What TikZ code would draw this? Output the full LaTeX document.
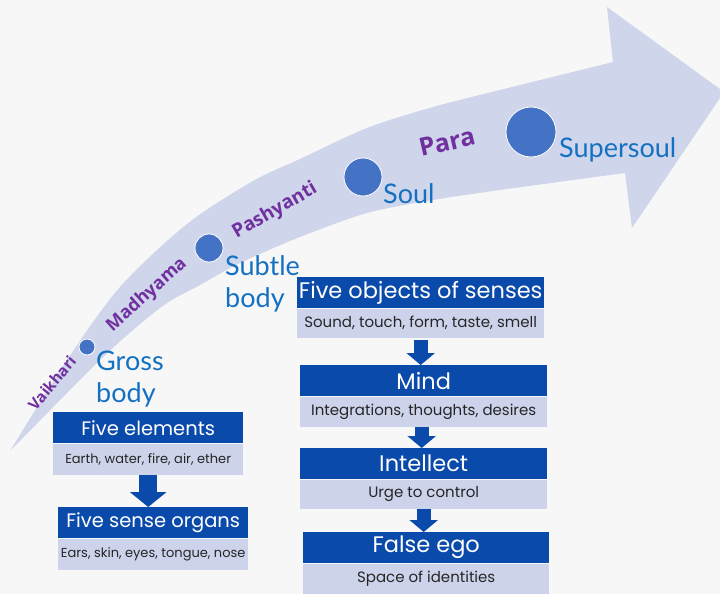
\documentclass[tikz,border=0pt]{standalone}
\usepackage{fontspec}
\setmainfont{Lato}
\newfontfamily\boxfont{Poppins}
\newfontfamily\plfont{Open Sans}
\usetikzlibrary{arrows.meta}
\definecolor{bgc}{HTML}{F7F7F7}
\definecolor{bandc}{HTML}{CFD5EA}
\definecolor{dotc}{HTML}{4472C4}
\definecolor{lblc}{HTML}{1471C2}
\definecolor{purpc}{HTML}{7030A0}
\definecolor{hdrc}{HTML}{0A4AAA}
\definecolor{bdyc}{HTML}{CDD3EA}
\definecolor{txtc}{HTML}{262626}
\tikzset{
  hdrbox/.style={fill=hdrc, text=white, minimum width=#1, minimum height=31pt, inner sep=0pt, anchor=north west, font=\boxfont\fontsize{22.5}{22.5}\selectfont},
  bdybox/.style={fill=bdyc, text=txtc, minimum width=#1, minimum height=30pt, inner sep=0pt, anchor=north west, font=\boxfont\fontsize{15}{15}\selectfont},
  lhdr/.style={font=\boxfont\fontsize{19.5}{19.5}\selectfont},
  lbdy/.style={font=\boxfont\fontsize{13}{13}\selectfont},
  bigarrow/.style={draw=hdrc, line width=18pt, -{Triangle[width=36pt,length=15pt]}},
  smallarrow/.style={draw=hdrc, line width=14pt, -{Triangle[width=28pt,length=12pt]}},
  dotnode/.style={circle, fill=dotc, draw=white, line width=0.8pt, inner sep=0pt, minimum size=#1},
  lab/.style={text=lblc, inner sep=0pt, anchor=north west, align=left, font=\fontsize{27}{32}\selectfont},
  plab/.style={text=purpc, inner sep=0pt, font=\plfont\bfseries\fontsize{#1}{#1}\selectfont},
}
\begin{document}
\begin{tikzpicture}[x=1pt,y=-1pt]
\fill[bgc] (0,0) rectangle (720,594);
\useasboundingbox (0,0) rectangle (720,594);
% band arrow
\fill[bandc] plot[smooth] coordinates {(10,451) (67,360) (120,287) (187,224) (253,181) (300,159) (367,128) (433,107) (500,90) (613,62)}
  -- (607,7) -- (724,92) -- (632,228) --
  plot[smooth] coordinates {(625,173) (500,190) (433,200) (367,213) (300,237) (240,263) (200,285) (167,303) (133,330) (100,360) (67,393) (10,451)} -- cycle;
% dots
\node[dotnode=16pt] (d1) at (87,347) {};
\node[dotnode=28pt] (d2) at (209,248) {};
\node[dotnode=38pt] (d3) at (363,177) {};
\node[dotnode=50pt] (d4) at (531,132) {};
% blue labels
\node[lab] (l1) at (96,351) {Gross\\body};
\node[lab] (l2) at (225,255) {Subtle\\body};
\node[lab] (l3) at (383,183) {Soul};
\node[lab] (l4) at (559,137) {Supersoul};
% purple labels
\node[plab=15.5, rotate=50] (p1) at (52,383) {Vaikhari};
\node[plab=18, rotate=42] (p2) at (147,295) {Madhyama};
\node[plab=19, rotate=30] (p3) at (275,211) {Pashyanti};
\node[plab=25, rotate=13] (p4) at (447,142) {Para};
% left column
\node[hdrbox=190pt, lhdr] (fe) at (53,412) {Five elements};
\node[bdybox=190pt, lbdy, minimum height=31pt] (feb) at (fe.south west) {Earth, water, fire, air, ether};
\node[hdrbox=190pt, lhdr] (fs) at (58,507) {Five sense organs};
\node[bdybox=190pt, lbdy, minimum height=31pt] (fsb) at (fs.south west) {Ears, skin, eyes, tongue, nose};
\draw[bigarrow] (feb.south) -- (feb.south |- fs.north);
% right column
\node[hdrbox=247pt] (fo) at (297,277) {Five objects of senses};
\node[bdybox=247pt, minimum height=29pt] (fob) at (fo.south west) {Sound, touch, form, taste, smell};
\node[hdrbox=247pt] (mi) at (300,365) {Mind};
\node[bdybox=247pt] (mib) at (mi.south west) {Integrations, thoughts, desires};
\node[hdrbox=247pt] (in) at (300,448) {Intellect};
\node[bdybox=247pt, minimum height=29pt] (inb) at (in.south west) {Urge to control};
\node[hdrbox=246pt] (eg) at (303,532) {False ego};
\node[bdybox=246pt] (egb) at (eg.south west) {Space of identities};
\draw[smallarrow] ([yshift=-2pt]fob.south) -- (fob.south |- mi.north);
\draw[smallarrow] ([xshift=-2pt]mib.south) -- ([xshift=-2pt]mib.south |- in.north);
\draw[smallarrow] (inb.south) -- (inb.south |- eg.north);
\end{tikzpicture}
\end{document}
